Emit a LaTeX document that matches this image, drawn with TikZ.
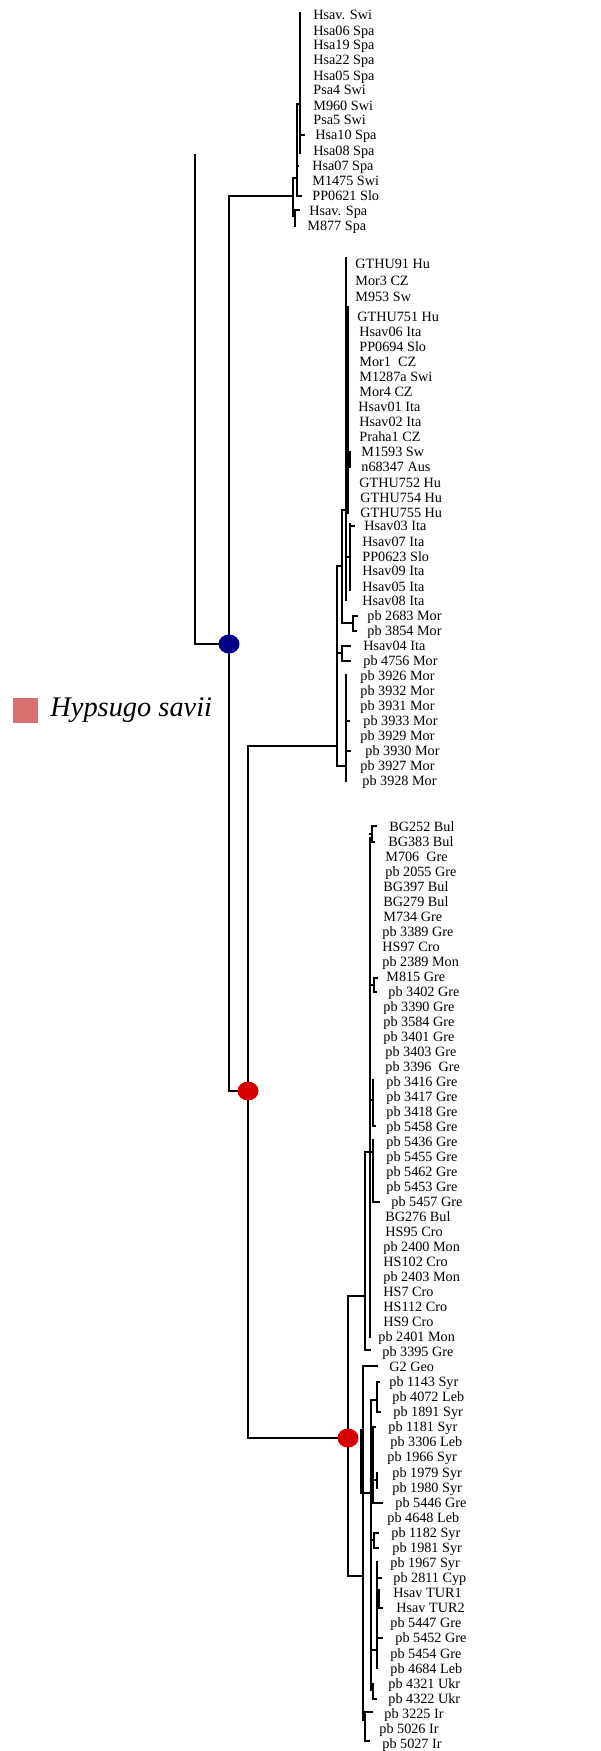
\documentclass[tikz,border=0pt]{standalone}
\usepackage{fontspec}
\setmainfont{Liberation Serif}
\usetikzlibrary{shapes.geometric}
\definecolor{nodeblue}{RGB}{0,0,135}
\definecolor{nodered}{RGB}{214,0,0}
\definecolor{keyred}{RGB}{217,112,112}
\tikzset{
  branch/.style={line width=0.8pt, line cap=rect},
  comb/.style={line width=1.1pt, line cap=rect},
  leaf/.style={anchor=base west, inner sep=0pt, font=\fontsize{7.1}{8}\selectfont},
  support/.style={ellipse, inner sep=0pt, minimum width=10.5pt, minimum height=9.5pt},
  swatch/.style={rectangle, fill=keyred, inner sep=0pt, minimum size=12.5pt},
}
\begin{document}
\begin{tikzpicture}[x=0.5pt,y=-0.5pt]
\useasboundingbox (0,0) rectangle (600,1751);

% ---- backbone ----
\coordinate (root)  at (195,155);
\coordinate (nBlue) at (229,644);
\coordinate (nRedA) at (248,1091);
\coordinate (nRedB) at (348,1438);
\coordinate (cA) at (293,196);
\coordinate (cB) at (337,746);
\coordinate (cC) at (365,1296);
\coordinate (cD) at (363,1576);

\draw[branch] (root) |- (nBlue);
\draw[branch] (nBlue) |- (cA);
\draw[branch] (nBlue) |- (nRedA);
\draw[branch] (nRedA) |- (cB);
\draw[branch] (nRedA) |- (nRedB);
\draw[branch] (nRedB) |- (cC);
\draw[branch] (nRedB) |- (cD);

% ---- clade A (Spain / Switzerland) ----
\draw[branch] (293,178) -- (293,216);
\draw[branch] (293,178) -- (297,178);
\draw[comb]   (297,104) -- (297,196);
\draw[branch] (297,104) -- (300,104);
\draw[comb]   (300,13) -- (300,153);
\draw[branch] (300,135) -- (304,135);
\draw[branch] (297,196) -- (301,196);
\draw[branch] (297,166) -- (298,166);
\draw[branch] (293,216) -- (295,216);
\draw[branch] (295,210) -- (295,226);
\draw[branch] (295,210) -- (299,210);

% ---- clade B (central Europe / Italy / Morocco) ----
\draw[branch] (337,566) -- (337,766);
\draw[branch] (337,566) -- (342,566);
\draw[branch] (342,510) -- (342,623);
\draw[branch] (342,623) -- (353,623);
\draw[branch] (353,616) -- (353,631);
\draw[branch] (353,616) -- (357,616);
\draw[branch] (353,631) -- (356,631);
\draw[branch] (342,510) -- (346,510);
\draw[comb]   (346,258) -- (346,600);
\draw[comb]   (348,307) -- (348,513);
\draw[branch] (348,460) -- (350,460);
\draw[branch] (350,452) -- (350,467);
\draw[branch] (346,557) -- (350,557);
\draw[branch] (350,524) -- (350,590);
\draw[branch] (350,526) -- (354,526);
\draw[branch] (337,653) -- (342,653);
\draw[branch] (342,646) -- (342,661);
\draw[branch] (342,646) -- (350,646);
\draw[branch] (342,661) -- (350,661);
\draw[branch] (337,766) -- (346,766);
\draw[comb]   (346,675) -- (346,781);
\draw[branch] (346,721) -- (349,721);
\draw[branch] (346,751) -- (350,751);

% ---- clade C (Balkans) ----
\draw[branch] (365,1152) -- (365,1350);
\draw[branch] (365,1350) -- (370,1350);
\draw[branch] (365,1152) -- (373,1152);
\draw[comb]   (370,838) -- (370,1337);
\draw[branch] (370,834) -- (372,834);
\draw[branch] (372,826) -- (372,842);
\draw[branch] (372,826) -- (376,826);
\draw[branch] (372,842) -- (374,842);
\draw[branch] (370,985) -- (374,985);
\draw[branch] (374,978) -- (374,992);
\draw[branch] (374,978) -- (377,978);
\draw[branch] (374,992) -- (376,992);
\draw[branch] (370,1100) -- (373,1100);
\draw[comb]   (373,1080) -- (373,1126);
\draw[branch] (373,1126) -- (375,1126);
\draw[comb]   (373,1140) -- (373,1202);
\draw[branch] (373,1202) -- (379,1202);

% ---- clade D (Near East / Ukraine / Iran) ----
\draw[branch] (363,1366) -- (363,1720);
\draw[branch] (361,1430) -- (361,1493);
\draw[branch] (363,1366) -- (377,1366);
\draw[branch] (363,1493) -- (371,1493);
\draw[comb]   (371,1400) -- (371,1690);
\draw[branch] (371,1400) -- (377,1400);
\draw[branch] (377,1382) -- (377,1412);
\draw[branch] (377,1382) -- (379,1382);
\draw[branch] (377,1412) -- (380,1412);
\draw[branch] (371,1463) -- (373,1463);
\draw[comb]   (373,1427) -- (373,1503);
\draw[branch] (373,1427) -- (375,1427);
\draw[branch] (373,1480) -- (377,1480);
\draw[branch] (377,1473) -- (377,1488);
\draw[branch] (373,1503) -- (382,1503);
\draw[branch] (371,1540) -- (374,1540);
\draw[branch] (374,1533) -- (374,1548);
\draw[branch] (374,1533) -- (378,1533);
\draw[branch] (374,1548) -- (378,1548);
\draw[branch] (371,1650) -- (377,1650);
\draw[branch] (377,1562) -- (377,1668);
\draw[branch] (377,1578) -- (381,1578);
\draw[branch] (377,1597) -- (379,1597);
\draw[branch] (379,1590) -- (379,1608);
\draw[branch] (379,1608) -- (382,1608);
\draw[branch] (377,1638) -- (382,1638);
\draw[branch] (371,1690) -- (373,1690);
\draw[branch] (373,1684) -- (373,1699);
\draw[branch] (373,1699) -- (376,1699);
\draw[branch] (363,1720) -- (365,1720);
\draw[branch] (365,1712) -- (365,1741);
\draw[branch] (365,1712) -- (372,1712);
\draw[branch] (365,1741) -- (369,1741);

% ---- support markers ----
\node[support, fill=nodeblue] (blue) at (nBlue) {};
\node[support, fill=nodered] (redA) at (nRedA) {};
\node[support, fill=nodered] (redB) at (nRedB) {};

% ---- key ----
\node[swatch] (key) at (25.5,710.5) {};
\node[anchor=base west, inner sep=0pt, font=\fontsize{14.2}{16}\selectfont\itshape] (species) at (50,716) {Hypsugo savii};

% ---- tip labels ----
\foreach \y/\x/\t [count=\i] in {
  15/313/Hsav. Swi, 31/313/Hsa06 Spa, 45/313/Hsa19 Spa, 60/313/Hsa22 Spa,
  76/313/Hsa05 Spa, 90/313/Psa4 Swi, 106/313/M960 Swi, 120/313/Psa5 Swi,
  135/315/Hsa10 Spa, 151/313/Hsa08 Spa, 166/312/Hsa07 Spa, 181/312/M1475 Swi,
  196/312/PP0621 Slo, 211/309/Hsav. Spa, 226/307/M877 Spa}
  \node[leaf] (tA\i) at (\x,{\y+4.5}) {\t};

\foreach \y/\x/\t [count=\i] in {
  264/355/GTHU91 Hu, 281/355/Mor3 CZ, 297/355/M953 Sw, 317/357/GTHU751 Hu,
  332/359/Hsav06 Ita, 347/359/PP0694 Slo, 362/359/Mor1~~CZ, 377/359/M1287a Swi,
  392/359/Mor4 CZ, 407/358/Hsav01 Ita, 422/359/Hsav02 Ita, 437/359/Praha1 CZ,
  452/361/M1593 Sw, 467/361/n68347 Aus, 483/359/GTHU752 Hu, 498/360/GTHU754 Hu,
  513/360/GTHU755 Hu, 526/364/Hsav03 Ita, 542/362/Hsav07 Ita, 557/362/PP0623 Slo,
  571/362/Hsav09 Ita, 587/362/Hsav05 Ita, 601/362/Hsav08 Ita, 616/367/pb 2683 Mor,
  631/367/pb 3854 Mor, 646/363/Hsav04 Ita, 661/363/pb 4756 Mor, 676/360/pb 3926 Mor,
  691/360/pb 3932 Mor, 706/360/pb 3931 Mor, 721/363/pb 3933 Mor, 736/360/pb 3929 Mor,
  751/365/pb 3930 Mor, 766/360/pb 3927 Mor, 781/362/pb 3928 Mor}
  \node[leaf] (tB\i) at (\x,{\y+4.5}) {\t};

\foreach \y/\x/\t [count=\i] in {
  827/389/BG252 Bul, 842/388/BG383 Bul, 857/385/M706~~Gre, 872/385/pb 2055 Gre,
  887/383/BG397 Bul, 902/383/BG279 Bul, 917/383/M734 Gre, 932/382/pb 3389 Gre,
  947/382/HS97 Cro, 962/382/pb 2389 Mon, 977/386/M815 Gre, 992/388/pb 3402 Gre,
  1007/383/pb 3390 Gre, 1022/383/pb 3584 Gre, 1037/383/pb 3401 Gre, 1052/385/pb 3403 Gre,
  1067/385/pb 3396~~Gre, 1082/386/pb 3416 Gre, 1097/386/pb 3417 Gre, 1112/386/pb 3418 Gre,
  1127/386/pb 5458 Gre, 1142/386/pb 5436 Gre, 1157/386/pb 5455 Gre, 1172/386/pb 5462 Gre,
  1187/386/pb 5453 Gre, 1202/391/pb 5457 Gre, 1217/385/BG276 Bul, 1232/385/HS95 Cro,
  1247/383/pb 2400 Mon, 1262/383/HS102 Cro, 1277/383/pb 2403 Mon, 1292/383/HS7 Cro,
  1307/383/HS112 Cro, 1322/383/HS9 Cro, 1337/378/pb 2401 Mon, 1352/382/pb 3395 Gre}
  \node[leaf] (tC\i) at (\x,{\y+4.5}) {\t};

\foreach \y/\x/\t [count=\i] in {
  1367/389/G2 Geo, 1382/389/pb 1143 Syr, 1397/392/pb 4072 Leb, 1412/393/pb 1891 Syr,
  1427/388/pb 1181 Syr, 1442/390/pb 3306 Leb, 1457/387/pb 1966 Syr, 1473/392/pb 1979 Syr,
  1488/392/pb 1980 Syr, 1503/395/pb 5446 Gre, 1518/387/pb 4648 Leb, 1533/391/pb 1182 Syr,
  1548/392/pb 1981 Syr, 1563/390/pb 1967 Syr, 1578/393/pb 2811 Cyp, 1593/393/Hsav TUR1,
  1608/396/Hsav TUR2, 1623/390/pb 5447 Gre, 1638/395/pb 5452 Gre, 1654/390/pb 5454 Gre,
  1669/390/pb 4684 Leb, 1684/388/pb 4321 Ukr, 1699/388/pb 4322 Ukr, 1714/384/pb 3225 Ir,
  1729/379/pb 5026 Ir, 1744/382/pb 5027 Ir}
  \node[leaf] (tD\i) at (\x,{\y+4.5}) {\t};

\end{tikzpicture}
\end{document}
